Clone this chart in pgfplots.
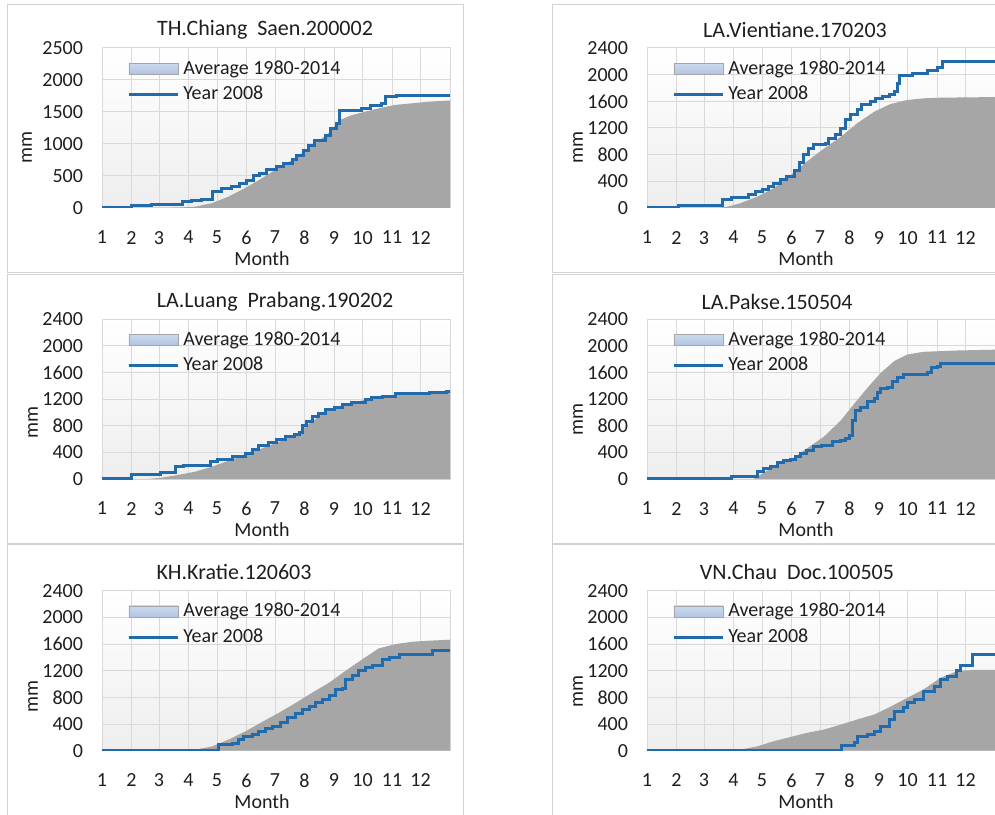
\documentclass[border=0pt]{standalone}
\usepackage{fontspec}
\setmainfont{Carlito}
\usepackage{pgfplots}
\pgfplotsset{compat=1.18}
\definecolor{avggray}{RGB}{166,166,166}
\definecolor{blue2008}{RGB}{33,107,172}
\definecolor{gridc}{RGB}{217,217,217}
\definecolor{framec}{RGB}{210,210,210}
\definecolor{legblue}{RGB}{176,196,228}
\definecolor{legbluetop}{RGB}{205,218,238}
\definecolor{txt}{RGB}{30,30,30}
\definecolor{bgbot}{RGB}{238,238,238}

\pgfplotsset{
  panel/.style={
    scale only axis, width=174pt, height=80pt,
    xmin=0, xmax=366, ymin=0,
    xtick={0,31,60,91,121,152,182,213,244,274,305,335},
    xticklabels={1,2,3,4,5,6,7,8,9,10,11,12},
    grid=major, major grid style={draw=gridc, line width=0.5pt},
    axis line style={draw=gridc, line width=0.5pt},
    major tick length=0pt,
    tick style={draw=none},
    ticklabel style={font=\fontsize{10}{12}\selectfont, text=txt},
    yticklabel style={xshift=-6pt},
    xticklabel style={yshift=-8pt},
    /pgf/number format/assume math mode=true,
    /pgf/number format/1000 sep={},
    axis background/.style={top color=white, bottom color=bgbot},
    legend cell align=left,
    legend style={at={(axis description cs:0,1)}, anchor=north west, xshift=12.5pt, yshift=-4pt, draw=none, fill=none, font=\fontsize{10}{12}\selectfont, text=txt, row sep=0.5pt, inner sep=0pt},
  },
  avg/.style={fill=avggray, draw=none,
    legend image code/.code={\draw[draw=gray!70, top color=legbluetop, bottom color=legblue] (0pt,-2.75pt) rectangle (24.5pt,2.75pt);}},
  yr/.style={const plot, draw=blue2008, line width=1.5pt,
    legend image code/.code={\draw[draw=blue2008, line width=1.5pt] (0pt,0pt) -- (24.5pt,0pt);}},
}
\newcommand{\ttl}{\fontsize{11}{13}\selectfont\color{txt}}
\newcommand{\lbl}{\fontsize{10}{12}\selectfont\color{txt}}

\begin{document}
\begin{tikzpicture}
% chart area frames
\draw[framec, line width=0.5pt] (3.5pt,270.5pt) rectangle (231.5pt,404.5pt);
\draw[framec, line width=0.5pt] (276pt,270.5pt) rectangle (505pt,404.5pt);
\draw[framec, line width=0.5pt] (3.5pt,135pt) rectangle (231.5pt,269.5pt);
\draw[framec, line width=0.5pt] (276pt,135pt) rectangle (505pt,269.5pt);
\draw[framec, line width=0.5pt] (3.5pt,-5pt) rectangle (231.5pt,134.5pt);
\draw[framec, line width=0.5pt] (276pt,-5pt) rectangle (505pt,134.5pt);

% Panel 1
\begin{axis}[panel, at={(51pt,303pt)}, anchor=south west, ymax=2500, ytick={0,500,1000,1500,2000,2500}]
\addplot[avg] coordinates {(0,0)(60,0)(77,5)(98,20)(115,73)(133,177)(150,307)(168,463)(185,620)(203,776)(220,958)(238,1167)(250,1375)(263,1453)(273,1490)(291,1557)(308,1610)(326,1635)(343,1661)(366,1680)} \closedcycle;
\addlegendentry{Average 1980-2014}
\addplot[yr] coordinates {(0,5)(30.5,35)(52,55)(84.5,95)(94,110)(105,135)(116,255)(126,307)(136,333)(145,375)(152,437)(159,500)(166,540)(173,604)(184,645)(191,698)(200,750)(205,828)(212,906)(217,969)(224,1062)(235,1125)(240,1245)(247,1323)(250,1531)(273,1557)(282,1600)(294,1635)(298,1740)(310,1765)(366,1765)};
\addlegendentry{Year 2008}
\end{axis}

% Panel 2
\begin{axis}[panel, at={(323.5pt,303pt)}, anchor=south west, ymax=2400, ytick={0,400,800,1200,1600,2000,2400}]
\addplot[avg] coordinates {(0,0)(75,0)(85,20)(98,70)(116,170)(133,295)(151,490)(168,695)(186,890)(204,1070)(221,1270)(239,1445)(256,1560)(274,1620)(291,1645)(309,1655)(344,1660)(366,1665)} \closedcycle;
\addlegendentry{Average 1980-2014}
\addplot[yr] coordinates {(0,5)(33,35)(79,130)(89,160)(107,195)(114,240)(121,270)(128,320)(133,370)(140,420)(147,470)(155,560)(160,680)(165,800)(170,895)(175,945)(188,970)(191,1040)(198,1095)(204,1195)(209,1320)(214,1395)(221,1470)(226,1545)(235,1595)(240,1645)(248,1670)(255,1695)(260,1745)(263,1870)(266,1980)(279,2020)(295,2055)(306,2100)(311,2195)(366,2195)};
\addlegendentry{Year 2008}
\end{axis}

% Panel 3
\begin{axis}[panel, at={(51pt,167.5pt)}, anchor=south west, ymax=2400, ytick={0,400,800,1200,1600,2000,2400}]
\addplot[avg] coordinates {(0,0)(49,0)(63,20)(80,60)(98,110)(116,185)(133,274)(151,359)(168,458)(186,558)(204,657)(218,832)(232,981)(246,1080)(260,1130)(274,1180)(291,1220)(309,1255)(344,1275)(366,1305)} \closedcycle;
\addlegendentry{Average 1980-2014}
\addplot[yr] coordinates {(0,10)(31,75)(61,95)(77,185)(86,210)(114,260)(121,294)(137,334)(151,383)(158,443)(165,508)(175,543)(184,593)(193,633)(202,673)(208,693)(211,807)(215,857)(221,931)(228,981)(235,1041)(244,1080)(253,1120)(262,1150)(277,1200)(283,1220)(295,1235)(309,1280)(344,1295)(362,1320)(366,1330)};
\addlegendentry{Year 2008}
\end{axis}

% Panel 4
\begin{axis}[panel, at={(323.5pt,167.5pt)}, anchor=south west, ymax=2400, ytick={0,400,800,1200,1600,2000,2400}]
\addplot[avg] coordinates {(0,0)(112,0)(119,60)(133,185)(151,284)(168,458)(186,633)(204,881)(218,1130)(232,1370)(246,1594)(260,1768)(274,1868)(291,1908)(309,1918)(327,1928)(344,1933)(366,1940)} \closedcycle;
\addlegendentry{Average 1980-2014}
\addplot[yr] coordinates {(0,10)(89,35)(116,110)(123,160)(130,185)(137,244)(144,284)(151,294)(156,334)(161,383)(168,433)(175,483)(184,508)(195,558)(204,573)(209,608)(213,650)(216,880)(219,1021)(225,1071)(232,1170)(239,1210)(242,1295)(246,1360)(253,1380)(258,1470)(263,1520)(270,1569)(295,1604)(299,1669)(306,1694)(309,1734)(366,1735)};
\addlegendentry{Year 2008}
\end{axis}

% Panel 5
\begin{axis}[panel, at={(51pt,31.65pt)}, anchor=south west, ymax=2400, ytick={0,400,800,1200,1600,2000,2400}]
\addplot[avg] coordinates {(0,0)(84,0)(98,15)(116,65)(133,166)(151,292)(168,428)(186,569)(204,719)(221,870)(239,1021)(256,1197)(274,1373)(291,1534)(309,1600)(327,1635)(344,1650)(366,1665)} \closedcycle;
\addlegendentry{Average 1980-2014}
\addplot[yr] coordinates {(0,5)(120,10)(122,90)(137,110)(144,166)(149,206)(158,241)(165,292)(172,327)(179,367)(188,428)(195,493)(204,558)(211,619)(218,669)(225,719)(232,770)(239,830)(246,920)(253,930)(256,1071)(263,1132)(270,1197)(277,1247)(284,1272)(295,1363)(302,1398)(313,1449)(348,1499)(351,1510)(366,1510)};
\addlegendentry{Year 2008}
\end{axis}

% Panel 6
\begin{axis}[panel, at={(323.5pt,31.65pt)}, anchor=south west, ymax=2400, ytick={0,400,800,1200,1600,2000,2400}]
\addplot[avg] coordinates {(0,0)(88,0)(98,15)(116,65)(133,141)(151,206)(168,267)(186,317)(204,392)(221,468)(239,543)(256,659)(274,795)(291,920)(309,1097)(327,1197)(344,1212)(366,1212)} \closedcycle;
\addlegendentry{Average 1980-2014}
\addplot[yr] coordinates {(0,5)(205,75)(218,120)(221,206)(232,241)(239,292)(246,367)(255,468)(260,593)(270,644)(274,719)(281,770)(291,895)(302,970)(309,1071)(316,1106)(325,1197)(330,1272)(342,1449)(366,1449)};
\addlegendentry{Year 2008}
\end{axis}

% titles
\node[font=\ttl] at (132.5pt,392pt) {TH.Chiang\ \ Saen.200002};
\node[font=\ttl] at (397.5pt,392pt) {LA.Vientiane.170203};
\node[font=\ttl] at (137.5pt,256pt) {LA.Luang\ \ Prabang.190202};
\node[font=\ttl] at (388.5pt,256pt) {LA.Pakse.150504};
\node[font=\ttl] at (117pt,121pt) {KH.Kratie.120603};
\node[font=\ttl] at (398.5pt,121pt) {VN.Chau\ \ Doc.100505};
% x labels
\node[font=\lbl] at (131pt,277.5pt) {Month};
\node[font=\lbl] at (403pt,277.5pt) {Month};
\node[font=\lbl] at (131pt,142pt) {Month};
\node[font=\lbl] at (403pt,142pt) {Month};
\node[font=\lbl] at (131pt,6pt) {Month};
\node[font=\lbl] at (403pt,6pt) {Month};
% y labels
\node[font=\lbl, rotate=90] at (13.5pt,333pt) {mm};
\node[font=\lbl, rotate=90] at (289pt,333pt) {mm};
\node[font=\lbl, rotate=90] at (16.5pt,195.5pt) {mm};
\node[font=\lbl, rotate=90] at (289pt,197pt) {mm};
\node[font=\lbl, rotate=90] at (16.5pt,58.5pt) {mm};
\node[font=\lbl, rotate=90] at (289pt,61pt) {mm};

\pgfresetboundingbox
\path[use as bounding box] (0pt,0pt) rectangle (497.5pt,407pt);
\end{tikzpicture}
\end{document}
